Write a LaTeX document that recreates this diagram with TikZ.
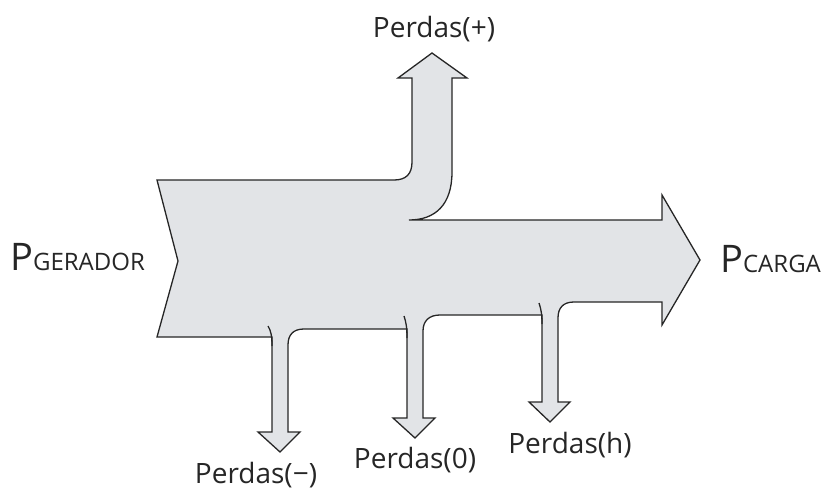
\documentclass[tikz,border=0pt]{standalone}
\usepackage{fontspec}
\setmainfont{Open Sans}
\usepackage{tikz}
\definecolor{flowfill}{RGB}{226,228,231}
\definecolor{flowline}{RGB}{38,38,38}
\tikzset{
  flow/.style={draw=flowline, fill=flowfill, line width=1.3pt, line join=miter},
  flowtip/.style={draw=flowline, line width=1.3pt},
  lbl/.style={anchor=base, inner sep=0pt, text=black!85,
              font=\fontsize{28}{30}\selectfont},
  plbl/.style={anchor=base west, inner sep=0pt, text=black!85},
}
\newcommand{\potencia}[1]{{\fontsize{38}{40}\selectfont P}{\fontsize{24}{26}\selectfont #1}}

\begin{document}
\begin{tikzpicture}[x=1pt,y=-1pt]
  \useasboundingbox (0,0) rectangle (825,490);
  % fluxo principal com as derivacoes de perdas
  \draw[flow] (157,180) -- (394,180) .. controls (406,180) and (412,174) .. (412,162)
    -- (412,78) -- (398,78) -- (432,53) -- (467,78) -- (452,78)
    -- (452,172) .. controls (452,205) and (435,220) .. (409,220)
    -- (662,220) -- (662,195) -- (700,260) -- (662,325) -- (662,302)
    -- (574,302) .. controls (563,302) and (558,308) .. (558,318)
    -- (558,402) -- (570,402) -- (550,422) -- (529,402) -- (542,402)
    -- (542,315) -- (440,315) .. controls (429,315) and (423,321) .. (423,331)
    -- (423,418) -- (435,418) -- (415,438) -- (393,418) -- (407,418)
    -- (407,329) -- (304,329) .. controls (293,329) and (288,335) .. (288,345)
    -- (288,432) -- (300,432) -- (280,452) -- (258,432) -- (272,432)
    -- (272,337) -- (157,337) -- (178,261) -- cycle;
  % pontas das derivacoes para baixo
  \draw[flowtip] (272,346) .. controls (272,336) and (271,331) .. (268,326);
  \draw[flowtip] (407,338) .. controls (407,327) and (406,322) .. (404,316);
  \draw[flowtip] (542,324) .. controls (542,314) and (541,309) .. (539,303);
  % rotulos
  \node[plbl] (pger) at (10,270) {\potencia{GERADOR}};
  \node[plbl] (pcar) at (720,272) {\potencia{CARGA}};
  \node[lbl] (pmais) at (434,37) {Perdas(+)};
  \node[lbl] (pmenos) at (256,483) {Perdas(−)};
  \node[lbl] (pzero) at (415,468) {Perdas(0)};
  \node[lbl] (ph) at (570,453) {Perdas(h)};
\end{tikzpicture}
\end{document}
